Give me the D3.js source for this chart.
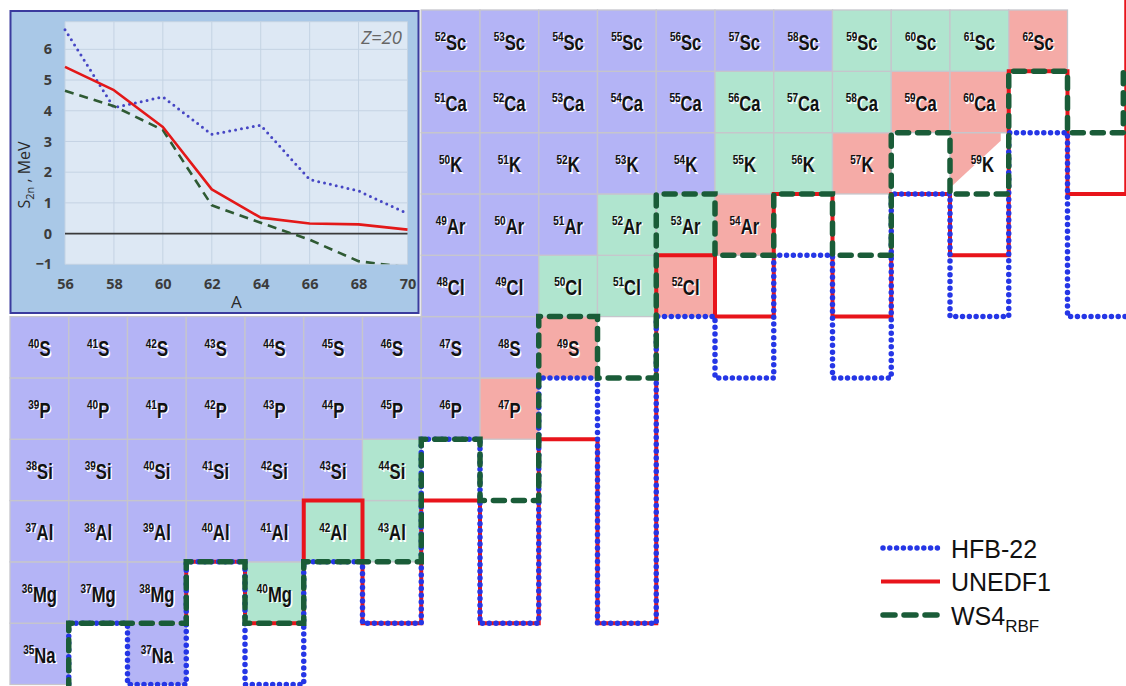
<!DOCTYPE html>
<html><head><meta charset="utf-8">
<script src="https://cdn.jsdelivr.net/npm/d3@7"></script>
<style>
html,body{margin:0;padding:0;background:#fff;}
svg{display:block;}
</style></head>
<body>
<svg id="chart" width="1126" height="686"></svg>
<script>
// ---------- nuclear chart data ----------
const rowZ = [11, 12, 13, 14, 15, 16, 17, 18, 19, 20, 21];
const rowSymbol = ["Na", "Mg", "Al", "Si", "P", "S", "Cl", "Ar", "K", "Ca", "Sc"];
const rowFirstN = [24, 24, 24, 24, 24, 24, 31, 31, 31, 31, 31];
// B = known (blue), G = green, R = red/pink, H = half pink, . = empty
const rowStatus = ["B.B", "BBB.G", "BBBBBGG", "BBBBBBG", "BBBBBBBBR", "BBBBBBBBBR",
                   "BBGGR", "BBBGGR", "BBBBBGGR.H", "BBBBBGGGRR", "BBBBBBBGGGR"];

// driplines as cell-edge vertices [N edge, Z edge]
const hfb22 = [[25,10.9],[25,12],[26,12],[26,11],[27,11],[27,13],[28,13],[28,11],[29,11],[29,13],[30,13],[30,12],[31,12],[31,15],[32,15],[32,12],[33,12],[33,16],[34,16],[34,12],[35,12],[35,17],[36,17],[36,16],[37,16],[37,18],[38,18],[38,16],[39,16],[39,19],[40,19],[40,17],[41,17],[41,20],[42,20],[42,17],[43.3,17]];
const unedf1 = [[27,12],[27,13],[28,13],[28,12],[29,12],[29,14],[30,14],[30,12],[31,12],[31,14],[32,14],[32,12],[33,12],[33,15],[34,15],[34,12],[35,12],[35,18],[36,18],[36,17],[37,17],[37,19],[38,19],[38,17],[39,17],[39,19],[40,19],[40,18],[41,18],[41,21],[42,21],[42,19],[43,19],[43,22.3]];
const ws4rbf = [[25,10.9],[25,12],[27,12],[27,13],[28,13],[28,12],[29,12],[29,13],[31,13],[31,15],[32,15],[32,14],[33,14],[33,17],[34,17],[34,16],[35,16],[35,19],[36,19],[36,18],[37,18],[37,19],[38,19],[38,18],[39,18],[39,20],[40,20],[40,19],[41,19],[41,21],[42,21],[42,20],[42.95,20],[42.95,21],[43.3,21]];

// ---------- inset data (Z=20, S2n) ----------
const insetA = [56, 58, 60, 62, 64, 66, 68, 70];
const s2nHFB = [6.64, 4.10, 4.45, 3.23, 3.53, 1.76, 1.39, 0.65];
const s2nUNEDF = [5.43, 4.67, 3.47, 1.44, 0.52, 0.33, 0.30, 0.13];
const s2nWS4 = [4.65, 4.15, 3.37, 0.92, 0.35, -0.20, -0.90, -1.10];
const insetXTicks = [56, 58, 60, 62, 64, 66, 68, 70];
const insetYTicks = [-1, 0, 1, 2, 3, 4, 5, 6];

const legendNames = ["HFB-22", "UNEDF1", "WS4"];
const legendSubs = ["", "", "RBF"];

// ---------- styles ----------
const cellFill = {B: "#b4b4f6", G: "#b0e5cf", R: "#f5aba7", H: "#f5aba7"};
const lineStyle = [
  {color: "#2536e6", width: 5.5, dash: "0 6.8", cap: "round"},
  {color: "#e8141b", width: 4, dash: null, cap: "butt"},
  {color: "#1a5c38", width: 5.5, dash: "11 9", cap: "round"}
];

const svg = d3.select("#chart");
const xE = d3.scaleLinear().domain([24, 43]).range([10, 10 + 19 * 58.75]);
const yE = d3.scaleLinear().domain([22, 11]).range([10, 684.5]);

// cells
const cells = [];
rowZ.forEach((Z, i) => {
  rowStatus[i].split("").forEach((s, k) => {
    if (s === ".") return;
    const N = rowFirstN[i] + k;
    cells.push({Z, N, s, sym: rowSymbol[i], A: Z + N});
  });
});

const gCells = svg.append("g");
cells.forEach(c => {
  const x0 = xE(c.N), x1 = xE(c.N + 1), y0 = yE(c.Z + 1), y1 = yE(c.Z);
  if (c.s === "H") {
    gCells.append("path")
      .attr("d", `M${x0},${y0}L${x1 - 8},${y0}L${x1 - 8},${y0 + 8}L${x0 + 2},${y1 - 8}L${x0},${y1 - 8}Z`)
      .attr("fill", cellFill[c.s]);
    gCells.append("path")
      .attr("d", `M${x0},${y0}L${x1},${y0}M${x0},${y0}L${x0},${y1}`)
      .attr("stroke", "#c6c6cc").attr("stroke-width", 1.3);
  } else {
    gCells.append("rect")
      .attr("x", x0).attr("y", y0).attr("width", x1 - x0).attr("height", y1 - y0)
      .attr("fill", cellFill[c.s]).attr("stroke", "#c6c6cc").attr("stroke-width", 1.3);
  }
});

// labels
const gLab = svg.append("g").attr("font-family", "'Liberation Sans', Arial, sans-serif").attr("font-weight", "bold");
cells.forEach(c => {
  const cx = (xE(c.N) + xE(c.N + 1)) / 2 + (c.s === "H" ? 3 : 0);
  const cy = (yE(c.Z) + yE(c.Z + 1)) / 2 + 9;
  [["#ffffff", 1.4, 1.3], ["#111111", 0, 0]].forEach(([col, dx, dy]) => {
    const t = gLab.append("text")
      .attr("transform", `translate(${cx + dx},${cy + dy}) scale(0.74,1)`)
      .attr("text-anchor", "middle").attr("fill", col);
    t.append("tspan").attr("font-size", 13.5).attr("dy", -8.5).text(c.A);
    t.append("tspan").attr("font-size", 22.5).attr("dy", 8.5).text(c.sym);
  });
});

// driplines
const lineGen = d3.line().x(d => xE(d[0])).y(d => yE(d[1]));
const order = [[unedf1, 1], [hfb22, 0], [ws4rbf, 2]];
order.forEach(([pts, k]) => {
  const st = lineStyle[k];
  svg.append("path").attr("d", lineGen(pts)).attr("fill", "none")
    .attr("stroke", st.color).attr("stroke-width", st.width)
    .attr("stroke-dasharray", st.dash).attr("stroke-linecap", st.cap)
    .attr("stroke-linejoin", "miter");
});

// legend
const gLeg = svg.append("g");
legendNames.forEach((name, i) => {
  const st = lineStyle[i];
  const y = 548 + i * 33.5;
  gLeg.append("line").attr("x1", i === 1 ? 881 : 883).attr("x2", 940).attr("y1", y).attr("y2", y)
    .attr("stroke", st.color).attr("stroke-width", st.width)
    .attr("stroke-dasharray", i === 2 ? "12 9" : st.dash).attr("stroke-linecap", st.cap);
  const t = gLeg.append("text").attr("x", 951).attr("y", y + 9.5)
    .attr("font-family", "'Liberation Sans', Arial, sans-serif").attr("font-size", 25).attr("fill", "#111");
  t.append("tspan").text(name);
  if (legendSubs[i]) t.append("tspan").attr("font-size", 17).attr("dy", 7).text(legendSubs[i]);
});

// ---------- inset ----------
const gIn = svg.append("g");
gIn.append("rect").attr("x", 10.5).attr("y", 11).attr("width", 408).attr("height", 302)
  .attr("fill", "#a9c8e7").attr("stroke", "#3b3b9e").attr("stroke-width", 2);
const xi = d3.scaleLinear().domain([56, 70]).range([65, 407.5]);
const yi = d3.scaleLinear().domain([-1, 6.9]).range([264.3, 21.7]);
gIn.append("rect").attr("x", xi(56)).attr("y", yi(6.9)).attr("width", xi(70) - xi(56)).attr("height", yi(-1) - yi(6.9))
  .attr("fill", "#dde8f4");
// gridlines
gIn.selectAll(".hg").data(insetYTicks.concat([7])).enter().append("line")
  .attr("x1", xi(56)).attr("x2", xi(70)).attr("y1", d => yi(Math.min(d, 6.9))).attr("y2", d => yi(Math.min(d, 6.9)))
  .attr("stroke", "#c4d3e3").attr("stroke-width", 1);
gIn.selectAll(".vg").data(insetXTicks).enter().append("line")
  .attr("x1", d => xi(d)).attr("x2", d => xi(d)).attr("y1", yi(6.9)).attr("y2", yi(-1))
  .attr("stroke", "#c4d3e3").attr("stroke-width", 1);
// zero line
gIn.append("line").attr("x1", xi(56)).attr("x2", xi(70)).attr("y1", yi(0)).attr("y2", yi(0))
  .attr("stroke", "#3a3a3a").attr("stroke-width", 1.6);
// axes (labels only)
const axX = d3.axisBottom(xi).tickValues(insetXTicks).tickSize(0).tickPadding(14);
gIn.append("g").attr("transform", `translate(0,${yi(-1)})`).call(axX)
  .call(g => g.select(".domain").remove())
  .selectAll("text").attr("font-size", 14.5).attr("font-weight", "bold").attr("fill", "#3c3c3c")
  .attr("font-family", "'Open Sans', 'DejaVu Sans', sans-serif");
const axY = d3.axisLeft(yi).tickValues(insetYTicks).tickSize(0).tickPadding(13).tickFormat(d3.format("d"));
gIn.append("g").attr("transform", `translate(${xi(56)},0)`).call(axY)
  .call(g => g.select(".domain").remove())
  .selectAll("text").attr("font-size", 14.5).attr("font-weight", "bold").attr("fill", "#3c3c3c")
  .attr("font-family", "'Open Sans', 'DejaVu Sans', sans-serif");
gIn.append("text").attr("x", xi(63)).attr("y", 308).attr("text-anchor", "middle")
  .attr("font-size", 17).attr("font-family", "'Open Sans', 'DejaVu Sans', sans-serif").attr("fill", "#2a2a2a").text("A");
const yt = gIn.append("text").attr("transform", `translate(30,175) rotate(-90)`).attr("text-anchor", "middle")
  .attr("font-size", 16).attr("font-family", "'Open Sans', 'DejaVu Sans', sans-serif").attr("fill", "#2a2a2a");
yt.append("tspan").text("S");
yt.append("tspan").attr("font-size", 11).attr("dy", 4).text("2n");
yt.append("tspan").attr("dy", -4).text(" , MeV");
gIn.append("text").attr("x", 402).attr("y", 44).attr("text-anchor", "end").attr("font-style", "italic")
  .attr("font-size", 18.5).attr("font-family", "'Open Sans', 'DejaVu Sans', sans-serif").attr("fill", "#666").text("Z=20");

// series
svg.append("clipPath").attr("id", "plotclip").append("rect")
  .attr("x", xi(56) - 3).attr("y", yi(6.9)).attr("width", xi(70) - xi(56) + 6).attr("height", yi(-1) - yi(6.9));
const insetLine = d3.line().x((d, i) => xi(insetA[i])).y(d => yi(d));
const insetStyles = [
  {data: s2nHFB, color: "#4646c4", width: 3, dash: "0 6", cap: "round"},
  {data: s2nWS4, color: "#2f5a33", width: 2.6, dash: "9 6", cap: "butt"},
  {data: s2nUNEDF, color: "#e31818", width: 2.6, dash: null, cap: "butt"}
];
insetStyles.forEach(s => {
  gIn.append("path").attr("d", insetLine(s.data)).attr("fill", "none").attr("clip-path", "url(#plotclip)")
    .attr("stroke", s.color).attr("stroke-width", s.width).attr("stroke-dasharray", s.dash)
    .attr("stroke-linecap", s.cap).attr("stroke-linejoin", "round");
});
</script>
</body></html>
